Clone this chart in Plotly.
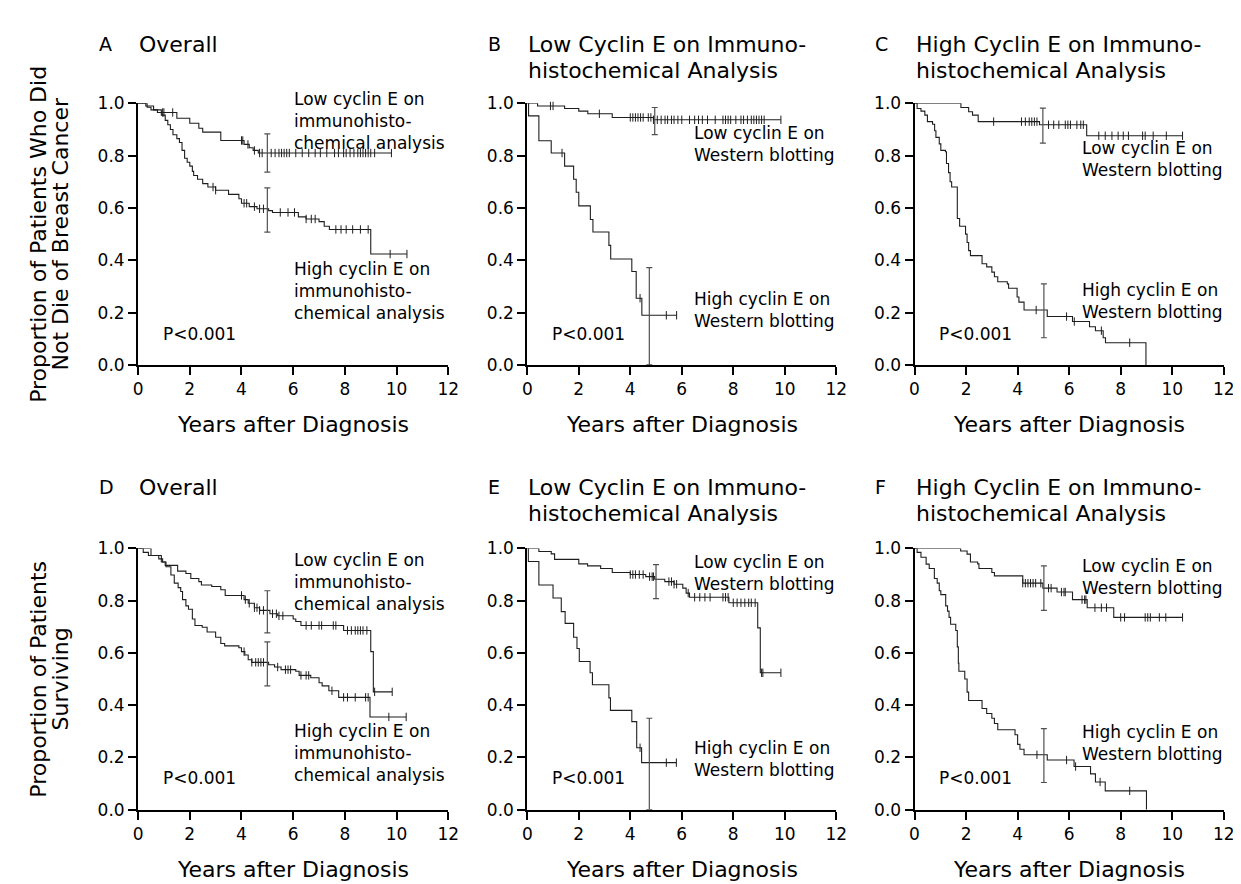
import bisect
import plotly.graph_objects as go

# ---------------- data ----------------
x_ticks = [0, 2, 4, 6, 8, 10, 12]
y_ticks = [0.0, 0.2, 0.4, 0.6, 0.8, 1.0]
y_tick_text = ["0.0", "0.2", "0.4", "0.6", "0.8", "1.0"]

# Panel A  (overall, breast-cancer specific)
A_low_t = [0.35, 0.5, 0.75, 1.5, 2.0, 2.35, 2.5, 3.2, 4.1, 4.3, 4.45, 4.65]
A_low_s = [0.985, 0.975, 0.965, 0.943, 0.924, 0.905, 0.89, 0.858, 0.843, 0.83, 0.82, 0.81]
A_low_end = 9.8
A_low_cens = [0.95, 1.0, 1.34, 4.0, 4.05, 4.25, 4.5, 4.7, 4.8, 5.15, 5.3, 5.45, 5.55, 5.65, 5.75, 5.85,
              6.1, 6.35, 6.6, 6.85, 7.05, 7.3, 7.6, 7.75, 7.95, 8.05, 8.2, 8.35, 8.5, 8.6, 8.7, 8.8, 8.9, 9.0, 9.15, 9.8]
A_high_t = [0.3, 0.6, 0.9, 1.05, 1.15, 1.25, 1.35, 1.5, 1.6, 1.7, 1.8, 1.9, 2.0, 2.1, 2.15, 2.3, 2.5, 2.7,
            3.0, 3.5, 3.9, 4.0, 4.3, 4.6, 5.05, 5.2, 6.2, 6.5, 7.0, 7.2, 7.4, 9.0]
A_high_s = [0.99, 0.975, 0.955, 0.935, 0.918, 0.9, 0.88, 0.865, 0.85, 0.82, 0.79, 0.775, 0.76, 0.74, 0.724,
            0.71, 0.693, 0.68, 0.668, 0.652, 0.635, 0.618, 0.605, 0.597, 0.59, 0.583, 0.566, 0.558, 0.548,
            0.53, 0.518, 0.424]
A_high_end = 10.4
A_high_cens = [2.9, 3.0, 4.1, 4.2, 4.5, 4.7, 4.85, 5.5, 5.8, 6.05, 6.5, 6.7, 6.85, 7.65, 7.85, 8.05, 8.3, 8.6, 8.9, 9.75, 10.4]
A_ci = [(5.0, 0.81, 0.737, 0.883), (5.0, 0.593, 0.508, 0.677)]

# Panel B  (low cyclin E on IHC, breast-cancer specific)
B_low_t = [0.4, 1.45, 2.0, 2.35, 3.3, 4.9]
B_low_s = [0.99, 0.98, 0.97, 0.96, 0.946, 0.937]
B_low_end = 9.85
B_low_cens = [0.9, 1.0, 2.8, 4.0, 4.1, 4.2, 4.3, 4.4, 4.5, 4.7, 4.8, 4.9, 5.05, 5.2, 5.35, 5.45, 5.6, 5.7, 5.85,
              6.0, 6.3, 6.5, 6.65, 6.8, 7.0, 7.3, 7.6, 7.7, 7.8, 7.9, 8.1, 8.3, 8.4, 8.55, 8.7, 8.8, 8.9, 9.0,
              9.1, 9.2, 9.85]
B_high_t = [0.05, 0.45, 0.93, 1.45, 1.8, 1.9, 2.0, 2.45, 2.55, 3.17, 3.24, 4.06, 4.23, 4.45]
B_high_s = [0.952, 0.857, 0.81, 0.76, 0.71, 0.66, 0.608, 0.556, 0.508, 0.457, 0.405, 0.357, 0.255, 0.19]
B_high_end = 5.8
B_high_cens = [1.35, 4.38, 5.4, 5.8]
B_ci = [(4.95, 0.937, 0.88, 0.984), (4.74, 0.19, 0.0, 0.372)]

# Panel C  (high cyclin E on IHC, breast-cancer specific)
C_low_t = [1.8, 2.1, 2.25, 2.47, 4.85, 6.68]
C_low_s = [0.984, 0.968, 0.955, 0.93, 0.918, 0.876]
C_low_end = 10.4
C_low_cens = [3.07, 4.15, 4.3, 4.45, 4.55, 4.65, 4.75, 5.2, 5.4, 5.6, 5.85, 5.95, 6.05, 6.3, 6.45, 6.55,
              7.15, 7.4, 7.66, 7.9, 8.1, 8.3, 8.85, 8.95, 9.26, 9.77, 10.4]
C_high_t = [0.1, 0.25, 0.4, 0.5, 0.7, 0.78, 0.83, 0.96, 1.02, 1.2, 1.24, 1.32, 1.38, 1.44, 1.66, 1.75, 1.98,
            2.04, 2.1, 2.17, 2.62, 2.8, 3.0, 3.1, 3.23, 3.6, 3.65, 3.98, 4.05, 4.25, 5.15, 6.13, 6.79, 7.02,
            7.32, 7.41, 8.98]
C_high_s = [0.98, 0.97, 0.955, 0.93, 0.92, 0.895, 0.87, 0.845, 0.82, 0.815, 0.77, 0.735, 0.70, 0.68, 0.56,
            0.53, 0.50, 0.468, 0.437, 0.418, 0.387, 0.375, 0.355, 0.337, 0.318, 0.31, 0.293, 0.26, 0.24,
            0.21, 0.185, 0.166, 0.146, 0.131, 0.104, 0.085, 0.0]
C_high_end = 8.98
C_high_cens = [4.72, 5.9, 6.2, 7.25, 8.35]
C_ci = [(4.98, 0.918, 0.848, 0.982), (5.02, 0.21, 0.104, 0.31)]

# Panel D  (overall survival)
D_low_t = [0.2, 0.4, 0.8, 0.95, 1.05, 1.53, 1.85, 2.04, 2.35, 2.45, 2.85, 3.2, 3.37, 4.1, 4.26, 4.5, 4.7,
           5.1, 5.4, 6.0, 6.1, 6.3, 7.95, 9.0, 9.1]
D_low_s = [0.985, 0.973, 0.96, 0.948, 0.935, 0.913, 0.904, 0.885, 0.873, 0.86, 0.854, 0.842, 0.82, 0.804,
           0.79, 0.773, 0.763, 0.75, 0.742, 0.73, 0.72, 0.705, 0.686, 0.605, 0.451]
D_low_end = 9.83
D_low_cens = [4.0, 4.15, 4.3, 4.5, 4.6, 4.7, 4.85, 5.2, 5.35, 5.45, 5.6, 6.5, 6.7, 7.0, 7.1, 7.55, 7.65,
              8.1, 8.25, 8.4, 8.5, 8.6, 8.7, 8.85, 9.15, 9.83]
D_high_t = [0.5, 0.9, 1.08, 1.27, 1.4, 1.55, 1.65, 1.72, 1.85, 1.95, 2.1, 2.2, 2.48, 2.67, 3.0, 3.2, 3.35,
            3.9, 4.0, 4.13, 4.26, 4.4, 5.05, 5.28, 5.53, 6.1, 6.23, 6.68, 7.0, 7.12, 7.38, 7.76, 8.97]
D_high_s = [0.973, 0.948, 0.93, 0.898, 0.867, 0.85, 0.835, 0.804, 0.78, 0.767, 0.73, 0.705, 0.698, 0.68,
            0.66, 0.636, 0.627, 0.62, 0.605, 0.592, 0.574, 0.564, 0.555, 0.546, 0.536, 0.53, 0.514, 0.505,
            0.486, 0.474, 0.455, 0.43, 0.355]
D_high_end = 10.37
D_high_cens = [4.1, 4.4, 4.55, 4.65, 4.75, 4.85, 5.4, 5.7, 5.8, 5.9, 6.3, 6.5, 6.6, 7.5, 7.95, 8.1, 8.4,
               8.8, 8.9, 9.7, 10.37]
D_ci = [(5.0, 0.76, 0.677, 0.838), (5.0, 0.561, 0.474, 0.642)]

# Panel E  (low cyclin E on IHC, overall survival)
E_low_t = [0.45, 0.93, 1.06, 2.0, 2.34, 2.85, 3.3, 4.0, 4.6, 4.95, 5.34, 5.7, 6.04, 6.17, 6.3, 7.83, 8.95, 9.05]
E_low_s = [0.988, 0.979, 0.958, 0.941, 0.933, 0.923, 0.908, 0.9, 0.892, 0.882, 0.873, 0.863, 0.848, 0.829,
           0.813, 0.792, 0.696, 0.524]
E_low_end = 9.85
E_low_cens = [4.0, 4.1, 4.2, 4.35, 4.5, 4.75, 4.85, 4.9, 5.5, 5.6, 5.7, 5.8, 6.25, 6.5, 6.7, 6.9, 7.1, 7.6,
              7.7, 7.8, 8.0, 8.15, 8.3, 8.45, 8.6, 8.7, 8.85, 9.1, 9.15, 9.85]
E_high_t = [0.04, 0.45, 1.0, 1.32, 1.47, 1.8, 1.93, 2.02, 2.44, 2.53, 3.17, 3.23, 4.06, 4.25, 4.44]
E_high_s = [0.95, 0.86, 0.81, 0.758, 0.713, 0.66, 0.617, 0.567, 0.524, 0.478, 0.428, 0.38, 0.337, 0.237, 0.18]
E_high_end = 5.79
E_high_cens = [4.38, 5.4, 5.79]
E_ci = [(5.0, 0.882, 0.808, 0.938), (4.74, 0.18, 0.0, 0.35)]

# Panel F  (high cyclin E on IHC, overall survival)
F_low_t = [1.79, 2.04, 2.17, 2.45, 2.5, 3.0, 3.1, 4.2, 4.98, 5.53, 6.13, 6.7, 7.73]
F_low_s = [0.99, 0.978, 0.948, 0.941, 0.923, 0.908, 0.895, 0.867, 0.848, 0.833, 0.804, 0.773, 0.736]
F_low_end = 10.4
F_low_cens = [4.2, 4.3, 4.4, 4.5, 4.6, 4.7, 4.9, 5.2, 5.3, 5.7, 5.8, 5.85, 6.5, 6.6, 6.65, 7.0, 7.25, 7.45,
              8.0, 8.15, 8.95, 9.05, 9.15, 9.5, 9.75, 10.4]
F_high_t = [0.1, 0.25, 0.45, 0.57, 0.77, 0.88, 0.96, 1.02, 1.21, 1.28, 1.34, 1.4, 1.6, 1.66, 1.7, 1.72, 1.95,
            2.04, 2.1, 2.62, 2.8, 3.0, 3.1, 3.23, 3.9, 4.0, 4.09, 4.25, 5.15, 6.19, 6.83, 7.02, 7.4, 9.0]
F_high_s = [0.985, 0.966, 0.94, 0.923, 0.885, 0.867, 0.838, 0.823, 0.78, 0.76, 0.736, 0.71, 0.686, 0.623,
            0.561, 0.53, 0.5, 0.45, 0.418, 0.387, 0.368, 0.35, 0.33, 0.306, 0.287, 0.25, 0.231, 0.21, 0.19,
            0.165, 0.137, 0.106, 0.072, 0.0]
F_high_end = 9.0
F_high_cens = [4.75, 5.9, 6.25, 7.2, 8.35]
F_ci = [(5.02, 0.848, 0.763, 0.933), (5.02, 0.2, 0.104, 0.31)]

panel_letters = ["A", "B", "C", "D", "E", "F"]
panel_titles = [
    ["Overall"],
    ["Low Cyclin E on Immuno-", "histochemical Analysis"],
    ["High Cyclin E on Immuno-", "histochemical Analysis"],
    ["Overall"],
    ["Low Cyclin E on Immuno-", "histochemical Analysis"],
    ["High Cyclin E on Immuno-", "histochemical Analysis"],
]
ihc_low_label = "Low cyclin E on<br>immunohisto-<br>chemical analysis"
ihc_high_label = "High cyclin E on<br>immunohisto-<br>chemical analysis"
wb_low_label = "Low cyclin E on<br>Western blotting"
wb_high_label = "High cyclin E on<br>Western blotting"
p_text = "P<0.001"
x_title = "Years after Diagnosis"
y_title_top = ["Proportion of Patients Who Did", "Not Die of Breast Cancer"]
y_title_bottom = ["Proportion of Patients", "Surviving"]

# ---------------- layout helpers ----------------
W, H = 1241, 884
FONT = "DejaVu Sans"
LINE = "#1e1e1e"
CI_COLOR = "#505050"

cols_px = [(126.7, 441.0), (521.0, 834.0), (913.3, 1226.6)]
rows_px = [(87.3, 355.0), (542.7, 810.0)]

panels = [
    dict(curves=[(A_low_t, A_low_s, A_low_end, A_low_cens), (A_high_t, A_high_s, A_high_end, A_high_cens)],
         ci=A_ci, labels=[(ihc_low_label, 5.97, 0.933), (ihc_high_label, 5.97, 0.281)]),
    dict(curves=[(B_low_t, B_low_s, B_low_end, B_low_cens), (B_high_t, B_high_s, B_high_end, B_high_cens)],
         ci=B_ci, labels=[(wb_low_label, 6.4, 0.843), (wb_high_label, 6.4, 0.21)]),
    dict(curves=[(C_low_t, C_low_s, C_low_end, C_low_cens), (C_high_t, C_high_s, C_high_end, C_high_cens)],
         ci=C_ci, labels=[(wb_low_label, 6.42, 0.787), (wb_high_label, 6.42, 0.243)]),
    dict(curves=[(D_low_t, D_low_s, D_low_end, D_low_cens), (D_high_t, D_high_s, D_high_end, D_high_cens)],
         ci=D_ci, labels=[(ihc_low_label, 5.97, 0.872), (ihc_high_label, 5.97, 0.217)]),
    dict(curves=[(E_low_t, E_low_s, E_low_end, E_low_cens), (E_high_t, E_high_s, E_high_end, E_high_cens)],
         ci=E_ci, labels=[(wb_low_label, 6.4, 0.905), (wb_high_label, 6.4, 0.195)]),
    dict(curves=[(F_low_t, F_low_s, F_low_end, F_low_cens), (F_high_t, F_high_s, F_high_end, F_high_cens)],
         ci=F_ci, labels=[(wb_low_label, 6.42, 0.89), (wb_high_label, 6.42, 0.254)]),
]


def surv_at(times, surv, t):
    i = bisect.bisect_right(times, t)
    return 1.0 if i == 0 else surv[i - 1]


fig = go.Figure()
annotations = []
layout_axes = {}

for k, p in enumerate(panels):
    r, c = divmod(k, 3)
    x0, x1 = cols_px[c]
    y0, y1 = rows_px[r]
    sfx = "" if k == 0 else str(k + 1)
    xa, ya = "x" + sfx, "y" + sfx
    layout_axes["xaxis" + sfx] = dict(
        domain=[x0 / W, x1 / W], anchor=ya, range=[0, 12], tickvals=x_ticks,
        ticktext=[str(v) for v in x_ticks], showline=True, linecolor="black", linewidth=2,
        ticks="outside", ticklen=8, tickwidth=2, tickcolor="black", showgrid=False, zeroline=False,
        tickfont=dict(family=FONT, size=17, color="black"), fixedrange=True)
    layout_axes["yaxis" + sfx] = dict(
        domain=[1 - y1 / H, 1 - y0 / H], anchor=xa, range=[0, 1], tickvals=y_ticks,
        ticktext=y_tick_text, showline=True, linecolor="black", linewidth=2,
        ticks="outside", ticklen=8, tickwidth=2, tickcolor="black", showgrid=False, zeroline=False,
        tickfont=dict(family=FONT, size=17, color="black"), fixedrange=True)

    for (ts, ss, end, cens) in p["curves"]:
        fig.add_trace(go.Scatter(
            x=[0] + ts + [end], y=[1.0] + ss + [ss[-1]], mode="lines", line_shape="hv",
            line=dict(color=LINE, width=1.1), xaxis=xa, yaxis=ya, showlegend=False, hoverinfo="skip",
            cliponaxis=False))
        fig.add_trace(go.Scatter(
            x=cens, y=[surv_at(ts, ss, t) for t in cens], mode="markers",
            marker=dict(symbol="line-ns", size=6, line=dict(color=LINE, width=1)),
            xaxis=xa, yaxis=ya, showlegend=False, hoverinfo="skip", cliponaxis=False))

    for (tx, mid, lo, hi) in p["ci"]:
        fig.add_trace(go.Scatter(
            x=[tx], y=[mid], mode="markers", marker=dict(size=1, color="rgba(0,0,0,0)"),
            error_y=dict(type="data", symmetric=False, array=[hi - mid], arrayminus=[mid - lo],
                         width=3, thickness=1.2, color=CI_COLOR),
            xaxis=xa, yaxis=ya, showlegend=False, hoverinfo="skip"))

    for (txt, lx, ly) in p["labels"]:
        annotations.append(dict(text=txt, x=lx, y=ly, xref=xa, yref=ya, xanchor="left",
                                yanchor="middle", align="left", showarrow=False,
                                font=dict(family=FONT, size=17, color="black")))
    annotations.append(dict(text=p_text, x=0.89, y=0.12, xref=xa, yref=ya, xanchor="left",
                            yanchor="middle", showarrow=False,
                            font=dict(family=FONT, size=17, color="black")))

    # panel letter and title
    top_line = 27 if r == 0 else 480
    annotations.append(dict(text=panel_letters[k], x=(x0 - 42) / W, y=1 - top_line / H, xref="paper",
                            yref="paper", xanchor="left", yanchor="middle", showarrow=False,
                            font=dict(family=FONT, size=19, color="black")))
    for j, line in enumerate(panel_titles[k]):
        annotations.append(dict(text=line, x=(x0 - 1) / W, y=1 - (top_line + 27 * j) / H, xref="paper",
                                yref="paper", xanchor="left", yanchor="middle", showarrow=False,
                                font=dict(family=FONT, size=22, color="black")))
    # x-axis title
    annotations.append(dict(text=x_title, x=(x0 + x1) / 2 / W, y=1 - (y1 + 61) / H, xref="paper",
                            yref="paper", xanchor="center", yanchor="middle", showarrow=False,
                            font=dict(family=FONT, size=22, color="black")))

# y-axis titles (two lines each)
for r, lines in enumerate([y_title_top, y_title_bottom]):
    y0, y1 = rows_px[r]
    for j, line in enumerate(lines):
        annotations.append(dict(text=line, x=(25 + 23 * j) / W, y=1 - (y0 + y1) / 2 / H, xref="paper",
                                yref="paper", xanchor="center", yanchor="middle", textangle=-90,
                                showarrow=False, font=dict(family=FONT, size=22, color="black")))

fig.update_layout(
    width=W, height=H, margin=dict(l=0, r=0, t=0, b=0), paper_bgcolor="white",
    plot_bgcolor="white", showlegend=False, annotations=annotations, **layout_axes)

fig.write_html("out.html")
